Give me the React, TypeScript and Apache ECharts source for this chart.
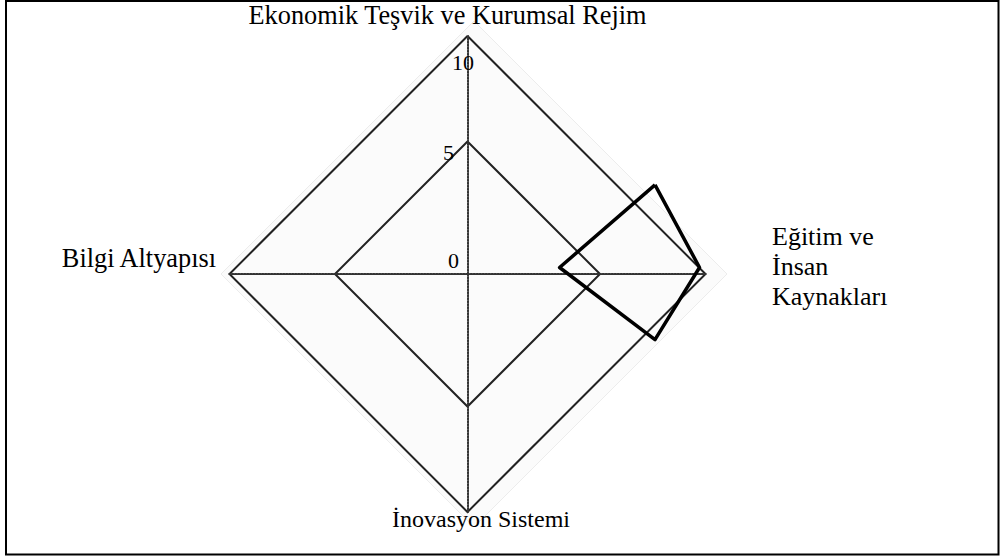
import React, { useEffect, useRef } from "react";
import * as echarts from "echarts";

// ---- data ----
const categories = [
  "Ekonomik Teşvik ve Kurumsal Rejim",
  "Bilgi Altyapısı",
  "İnovasyon Sistemi",
  "Eğitim ve\nİnsan\nKaynakları",
];
const ringValues = [5, 10];
const tickLabels = ["0", "5", "10"];
const seriesName = "Seri 1";
const seriesValues = [3.9, 4.5, 3.4, 2.1];

const FONT = "Liberation Serif";

export default function App() {
  const ref = useRef<HTMLDivElement>(null);

  useEffect(() => {
    if (!ref.current) return;
    const chart = echarts.init(ref.current, undefined, { renderer: "svg" });

    const nameLayout = [
      { x: 447.5, y: 15, align: "center", size: 26.3 },
      { x: 216, y: 258, align: "right", size: 26.3 },
      { x: 481, y: 519, align: "center", size: 24 },
      { x: 772, y: 266, align: "left", size: 26 },
    ];
    const tickLayout = [
      { x: 459, y: 260, align: "right" },
      { x: 454, y: 152, align: "right" },
      { x: 463, y: 62, align: "center" },
    ];

    const hidden = {
      axisName: { show: false },
      axisLine: { show: false },
      axisTick: { show: false },
      axisLabel: { show: false },
      splitLine: { show: false },
      splitArea: { show: false },
    };

    const option: any = {
      animation: false,
      backgroundColor: "#fff",
      radar: [
        // background plot area
        {
          ...hidden,
          center: [474, 274],
          radius: 253,
          startAngle: 90,
          shape: "polygon",
          splitNumber: 1,
          indicator: categories.map((name) => ({ name, min: 0, max: 10 })),
          splitLine: { show: true, lineStyle: { color: "#ececec", width: 1 } },
          splitArea: { show: true, areaStyle: { color: ["#fbfbfb"] } },
        },
        // outer ring (10) with axes
        {
          ...hidden,
          center: [467.5, 274],
          radius: 238,
          startAngle: 90,
          shape: "polygon",
          splitNumber: 1,
          indicator: categories.map((name) => ({ name, min: 0, max: ringValues[1] })),
          axisLine: { show: true, lineStyle: { color: "#333", width: 2, type: [1.5, 1.5] } },
          splitLine: { show: true, lineStyle: { color: "#222", width: 2 } },
        },
        // inner ring (5)
        {
          ...hidden,
          center: [467.5, 274],
          radius: 132.5,
          startAngle: 90,
          shape: "polygon",
          splitNumber: 1,
          indicator: categories.map((name) => ({ name, min: 0, max: ringValues[0] })),
          splitLine: { show: true, lineStyle: { color: "#222", width: 2 } },
        },
        // data coordinate system
        {
          ...hidden,
          center: [655, 267.5],
          radius: 212,
          startAngle: 90,
          shape: "polygon",
          splitNumber: 1,
          indicator: categories.map((name) => ({ name, min: 0, max: 10 })),
        },
      ],
      series: [
        {
          type: "radar",
          radarIndex: 3,
          name: seriesName,
          symbol: "none",
          lineStyle: { color: "#000", width: 3.5 },
          data: [{ value: seriesValues, name: seriesName }],
        },
      ],
      graphic: [
        {
          type: "rect",
          shape: { x: 6, y: 1, width: 992.5, height: 553.5 },
          style: { fill: "transparent", stroke: "#000", lineWidth: 2 },
          z: 10,
        },
        ...categories.map((name, i) => ({
          type: "text",
          x: nameLayout[i].x,
          y: nameLayout[i].y,
          z: 10,
          style: {
            text: name,
            fontFamily: FONT,
            fontSize: nameLayout[i].size,
            lineHeight: 30,
            fill: "#000",
            align: nameLayout[i].align,
            verticalAlign: "middle",
          },
        })),
        ...tickLabels.map((t, i) => ({
          type: "text",
          x: tickLayout[i].x,
          y: tickLayout[i].y,
          z: 10,
          style: {
            text: t,
            fontFamily: FONT,
            fontSize: 22,
            fill: "#000",
            align: tickLayout[i].align,
            verticalAlign: "middle",
          },
        })),
      ],
    };

    chart.setOption(option);
    return () => chart.dispose();
  }, []);

  return (
    <div
      ref={ref}
      style={{ position: "absolute", left: 0, top: 0, width: 1001, height: 557 }}
    />
  );
}
